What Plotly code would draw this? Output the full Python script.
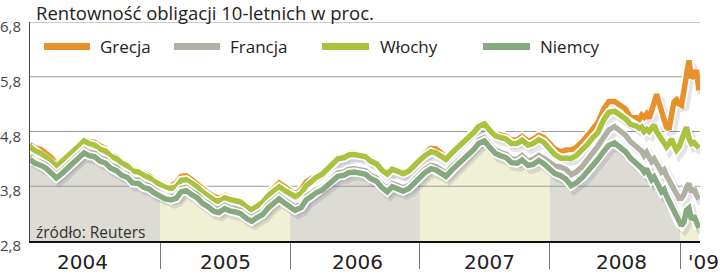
import numpy as np
import pandas as pd
import plotly.graph_objects as go

# ---------------- data ----------------
DATES = list(pd.date_range("2004-01-01", "2008-08-15", freq="SMS")) + \
        list(pd.date_range("2008-09-01", "2009-02-23", freq="7D"))

GRECJA = [
    4.56, 4.50, 4.47, 4.41, 4.32, 4.20, 4.28, 4.37, 4.47, 4.55, 4.66, 4.62, 4.60, 4.54, 4.48, 4.38, 4.33, 4.25, 4.20, 4.11, 4.09, 4.03, 3.99, 3.92,
    3.86, 3.82, 3.81, 3.86, 3.98, 3.99, 3.91, 3.84, 3.73, 3.68, 3.61, 3.58, 3.63, 3.59, 3.56, 3.54, 3.45, 3.40, 3.47, 3.53, 3.67, 3.75, 3.86, 3.80,
    3.73, 3.65, 3.74, 3.88, 3.94, 3.99, 4.05, 4.13, 4.23, 4.33, 4.35, 4.40, 4.41, 4.38, 4.37, 4.29, 4.24, 4.13, 4.05, 4.14, 4.09, 4.06, 4.11, 4.21,
    4.31, 4.40, 4.49, 4.48, 4.41, 4.33, 4.44, 4.52, 4.63, 4.70, 4.81, 4.92, 4.97, 4.86, 4.76, 4.74, 4.71, 4.64, 4.65, 4.71, 4.62, 4.66, 4.73, 4.69,
    4.56, 4.48, 4.43, 4.46, 4.46, 4.51, 4.61, 4.72, 4.86, 4.96, 5.22, 5.35, 5.35, 5.29, 5.21, 5.05,
    5.05, 5.02, 5.10, 5.06, 5.12, 5.04, 5.15, 5.32, 5.48, 5.30, 5.14, 5.02, 4.88, 4.84, 5.10, 5.34, 5.38, 5.30, 5.28, 5.55, 5.95, 6.10, 5.78, 5.82, 5.92, 5.55,
]
FRANCJA = [
    4.35, 4.28, 4.24, 4.19, 4.10, 4.01, 4.10, 4.18, 4.28, 4.36, 4.47, 4.42, 4.40, 4.32, 4.28, 4.19, 4.14, 4.06, 4.02, 3.92, 3.91, 3.84, 3.81, 3.74,
    3.69, 3.63, 3.61, 3.64, 3.76, 3.78, 3.70, 3.65, 3.54, 3.49, 3.40, 3.38, 3.45, 3.41, 3.39, 3.36, 3.27, 3.22, 3.29, 3.34, 3.47, 3.54, 3.63, 3.56,
    3.49, 3.42, 3.47, 3.61, 3.67, 3.74, 3.79, 3.86, 3.95, 4.04, 4.06, 4.11, 4.12, 4.09, 4.08, 4.00, 3.95, 3.84, 3.76, 3.85, 3.80, 3.77, 3.82, 3.92,
    4.03, 4.11, 4.18, 4.16, 4.10, 4.04, 4.16, 4.24, 4.35, 4.42, 4.53, 4.64, 4.69, 4.58, 4.46, 4.42, 4.38, 4.30, 4.29, 4.36, 4.26, 4.29, 4.36, 4.31,
    4.22, 4.17, 4.15, 4.11, 4.01, 4.06, 4.16, 4.27, 4.39, 4.53, 4.70, 4.83, 4.89, 4.81, 4.73, 4.61,
    4.52, 4.47, 4.44, 4.36, 4.42, 4.33, 4.25, 4.30, 4.19, 4.14, 4.06, 4.10, 3.99, 3.91, 3.84, 3.75, 3.66, 3.58, 3.58, 3.65, 3.78, 3.85, 3.69, 3.76, 3.64, 3.56,
]
WLOCHY = [
    4.52, 4.45, 4.40, 4.34, 4.26, 4.16, 4.25, 4.34, 4.44, 4.52, 4.63, 4.58, 4.55, 4.48, 4.44, 4.35, 4.30, 4.22, 4.17, 4.08, 4.06, 4.00, 3.96, 3.89,
    3.83, 3.78, 3.76, 3.79, 3.91, 3.92, 3.85, 3.79, 3.69, 3.63, 3.55, 3.52, 3.59, 3.56, 3.53, 3.51, 3.42, 3.37, 3.44, 3.50, 3.63, 3.70, 3.79, 3.73,
    3.67, 3.61, 3.67, 3.81, 3.88, 3.96, 4.02, 4.10, 4.20, 4.30, 4.32, 4.37, 4.38, 4.35, 4.34, 4.26, 4.21, 4.10, 4.02, 4.11, 4.06, 4.03, 4.08, 4.18,
    4.28, 4.36, 4.43, 4.41, 4.35, 4.29, 4.41, 4.49, 4.60, 4.67, 4.78, 4.89, 4.94, 4.83, 4.72, 4.69, 4.66, 4.58, 4.58, 4.64, 4.55, 4.58, 4.65, 4.60,
    4.46, 4.38, 4.31, 4.32, 4.31, 4.36, 4.46, 4.56, 4.69, 4.78, 5.02, 5.15, 5.17, 5.11, 5.03, 4.93,
    4.90, 4.86, 4.88, 4.80, 4.84, 4.80, 4.86, 4.92, 4.80, 4.72, 4.64, 4.58, 4.52, 4.58, 4.66, 4.55, 4.46, 4.52, 4.62, 4.72, 4.88, 4.68, 4.58, 4.60, 4.54, 4.50,
]
NIEMCY = [
    4.29, 4.22, 4.18, 4.13, 4.04, 3.95, 4.04, 4.12, 4.22, 4.30, 4.41, 4.36, 4.34, 4.26, 4.22, 4.13, 4.08, 4.00, 3.96, 3.86, 3.85, 3.78, 3.75, 3.68,
    3.63, 3.57, 3.55, 3.58, 3.70, 3.72, 3.64, 3.59, 3.48, 3.43, 3.34, 3.32, 3.39, 3.35, 3.33, 3.30, 3.21, 3.16, 3.23, 3.28, 3.41, 3.48, 3.57, 3.50,
    3.43, 3.36, 3.41, 3.55, 3.61, 3.68, 3.73, 3.80, 3.89, 3.98, 4.00, 4.05, 4.06, 4.03, 4.02, 3.94, 3.89, 3.78, 3.70, 3.79, 3.74, 3.71, 3.76, 3.86,
    3.97, 4.05, 4.12, 4.10, 4.04, 3.98, 4.10, 4.18, 4.29, 4.36, 4.47, 4.58, 4.63, 4.52, 4.40, 4.36, 4.32, 4.23, 4.22, 4.28, 4.18, 4.20, 4.27, 4.21,
    4.10, 4.03, 3.99, 3.93, 3.81, 3.86, 3.96, 4.06, 4.17, 4.29, 4.44, 4.55, 4.59, 4.51, 4.43, 4.31,
    4.22, 4.17, 4.13, 4.06, 4.12, 4.01, 3.92, 3.97, 3.85, 3.79, 3.70, 3.74, 3.62, 3.53, 3.44, 3.33, 3.22, 3.12, 3.08, 3.15, 3.36, 3.40, 3.19, 3.26, 3.12, 3.04,
]

SERIES_NAMES = ["Grecja", "Francja", "Włochy", "Niemcy"]
SERIES_VALUES = {"Grecja": GRECJA, "Francja": FRANCJA, "Włochy": WLOCHY, "Niemcy": NIEMCY}
DRAW_ORDER = ["Grecja", "Włochy", "Francja", "Niemcy"]

Y_TICKS = [2.8, 3.8, 4.8, 5.8, 6.8]
Y_LABELS = ["2,8", "3,8", "4,8", "5,8", "6,8"]
YEAR_STARTS = ["2004-01-01", "2005-01-01", "2006-01-01", "2007-01-01", "2008-01-01", "2009-01-01"]
YEAR_LABELS = ["2004", "2005", "2006", "2007", "2008", "'09"]
TITLE = "Rentowność obligacji 10-letnich w proc."
SOURCE = "źródło: Reuters"

# ---------------- style ----------------
COLORS = {"Grecja": "#e8912a", "Francja": "#b0b0a4", "Włochy": "#a9c23f", "Niemcy": "#87a97f"}
BAND_COLORS = ["#dddcd4", "#f0f0d4"]
W, H = 720, 279
ML, MR, MT, MB = 30, 20, 22, 34
PW, PH = W - ML - MR, H - MT - MB
X_END = pd.Timestamp("2009-02-26")
X_START = pd.Timestamp(YEAR_STARTS[0])


def fx(px):
    return (px - ML) / PW


def fy(py):
    return (H - MB - py) / PH


FONT = "Open Sans"

fig = go.Figure()

# background bands under the lowest line (Niemcy), one per year
tdays = np.array([(d - X_START).days for d in DATES], dtype=float)
nvals = np.array(NIEMCY, dtype=float)
bounds = [pd.Timestamp(s) for s in YEAR_STARTS] + [DATES[-1]]
for k in range(len(bounds) - 1):
    b0 = (bounds[k] - X_START).days
    b1 = (bounds[k + 1] - X_START).days
    mask = (tdays > b0) & (tdays < b1)
    xs = [b0] + list(tdays[mask]) + [b1]
    ys = list(np.interp(xs, tdays, nvals))
    xd = [X_START + pd.Timedelta(days=float(v)) for v in xs]
    fig.add_trace(go.Scatter(x=xd, y=ys, mode="lines", line=dict(width=0),
                             fill="tozeroy", fillcolor=BAND_COLORS[k % 2],
                             hoverinfo="skip", showlegend=False, xaxis="x", yaxis="y"))

# grid lines (drawn over bands, under curves)
for yv in Y_TICKS[1:]:
    fig.add_trace(go.Scatter(x=[X_START, X_END], y=[yv, yv], mode="lines",
                             line=dict(color="#9a9a9a", width=1),
                             hoverinfo="skip", showlegend=False, xaxis="x", yaxis="y"))

# shadows (shifted axes)
for name in DRAW_ORDER:
    fig.add_trace(go.Scatter(x=DATES, y=SERIES_VALUES[name], mode="lines",
                             line=dict(color="rgba(90,90,125,0.16)", width=9),
                             hoverinfo="skip", showlegend=False, xaxis="x2", yaxis="y2"))

# halos + lines
for name in DRAW_ORDER:
    fig.add_trace(go.Scatter(x=DATES, y=SERIES_VALUES[name], mode="lines",
                             line=dict(color="white", width=9),
                             hoverinfo="skip", showlegend=False, xaxis="x3", yaxis="y3"))
    fig.add_trace(go.Scatter(x=DATES, y=SERIES_VALUES[name], mode="lines", name=name,
                             line=dict(color=COLORS[name], width=5.5),
                             showlegend=False, xaxis="x3", yaxis="y3"))

px_per_day = PW / (X_END - X_START).days
dx = pd.Timedelta(days=3 / px_per_day)
dy = 4 * (Y_TICKS[-1] - Y_TICKS[0]) / PH

annotations = []
shapes = []
# title
annotations.append(dict(text=TITLE, x=fx(35), y=fy(12), xref="paper", yref="paper",
                        xanchor="left", yanchor="middle", showarrow=False, borderpad=0,
                        font=dict(family=FONT, size=18.5, color="#222")))
# y labels
for yv, lab in zip(Y_TICKS, Y_LABELS):
    annotations.append(dict(text=lab, x=0, y=yv, xref="paper", yref="y", xanchor="right",
                            yanchor="middle", xshift=-7, yshift=-4, showarrow=False,
                            font=dict(family=FONT, size=15, color="#444")))
# legend
LEG_POS = [(44, 90, 98), (174, 220, 228), (322, 369, 378), (483, 530, 538)]
for name, (a, b, t) in zip(SERIES_NAMES, LEG_POS):
    shapes.append(dict(type="line", xref="paper", yref="paper", x0=fx(a), x1=fx(b),
                       y0=fy(47), y1=fy(47), line=dict(color=COLORS[name], width=7)))
    annotations.append(dict(text=name, x=fx(t), y=fy(47), xref="paper", yref="paper",
                            xanchor="left", yanchor="middle", showarrow=False,
                            font=dict(family=FONT, size=17, color="#222")))
# source
annotations.append(dict(text=SOURCE, x=fx(34), y=fy(236), xref="paper", yref="paper",
                        xanchor="left", yanchor="middle", showarrow=False,
                        font=dict(family=FONT, size=15.5, color="#333")))
# year labels
YEAR_PX = [82, 225, 357, 489, 621, 703]
for lab, p in zip(YEAR_LABELS, YEAR_PX):
    annotations.append(dict(text=lab, x=fx(p), y=fy(266), xref="paper", yref="paper",
                            xanchor="center", yanchor="middle", showarrow=False,
                            font=dict(family="DejaVu Sans", size=20, color="#222")))

fig.update_layout(
    width=W, height=H, margin=dict(l=ML, r=MR, t=MT, b=MB),
    paper_bgcolor="white", plot_bgcolor="white", showlegend=False,
    xaxis=dict(type="date", range=[X_START, X_END], tickvals=YEAR_STARTS[1:],
               ticks="outside", ticklen=26, tickcolor="#777", tickwidth=1,
               showticklabels=False, showline=True, linecolor="#111", linewidth=2,
               showgrid=False, zeroline=False, fixedrange=True),
    yaxis=dict(range=[Y_TICKS[0], Y_TICKS[-1]], showgrid=False, showticklabels=False,
               showline=True, linecolor="#444", linewidth=1, ticks="", zeroline=False),
    xaxis2=dict(type="date", overlaying="x", range=[X_START - dx, X_END - dx], visible=False),
    yaxis2=dict(overlaying="y", range=[Y_TICKS[0] + dy, Y_TICKS[-1] + dy], visible=False),
    xaxis3=dict(type="date", overlaying="x", range=[X_START, X_END], visible=False),
    yaxis3=dict(overlaying="y", range=[Y_TICKS[0], Y_TICKS[-1]], visible=False),
    annotations=annotations, shapes=shapes,
)

fig.write_html("out.html")
